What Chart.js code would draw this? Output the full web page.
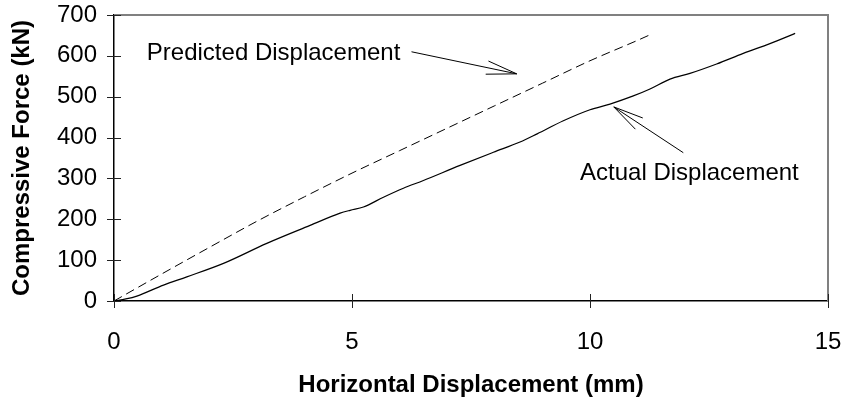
<!DOCTYPE html>
<html>
<head>
<meta charset="utf-8">
<script src="https://cdn.jsdelivr.net/npm/chart.js@4.4.1/dist/chart.umd.min.js"></script>
<style>
  html, body { margin: 0; padding: 0; background: #ffffff; }
  #wrap { width: 843px; height: 405px; }
</style>
</head>
<body>
<div id="wrap"><canvas id="c" width="843" height="405"></canvas></div>
<script>
// ---- data ----
const actualX = [0, 0.25, 0.48, 1.04, 1.53, 2.30, 3.21, 4.12, 4.75, 4.96, 5.24, 5.66, 6.08, 6.5, 7.27, 7.97, 8.53, 8.89, 9.44, 10.0, 10.42, 10.91, 11.26, 11.68, 12.1, 12.66, 13.22, 13.78, 14.31];
const actualY = [0, 5, 12, 39, 59, 92, 141, 185, 215, 222, 230, 254, 276, 295, 332, 364, 389, 409, 441, 468, 482, 502, 519, 543, 557, 580, 606, 630, 655];
const predX = [0, 1, 2, 3, 4, 5, 6, 7, 8, 9, 10, 11, 11.23];
const predY = [0, 66, 131, 195, 255, 313, 368, 423, 478, 533, 588, 638, 650];
const xTicks = [0, 5, 10, 15];
const yTicks = [0, 100, 200, 300, 400, 500, 600, 700];
const seriesNames = ['Actual Displacement', 'Predicted Displacement'];
const xTitle = 'Horizontal Displacement (mm)';
const yTitle = 'Compressive Force (kN)';

// annotation labels/arrows in data coordinates
const notes = [
  { text: 'Predicted Displacement', tx: 0.69, ty: 590, from: [6.25, 610], to: [8.46, 556] },
  { text: 'Actual Displacement', tx: 9.79, ty: 296, from: [11.96, 363], to: [10.5, 475] }
];

const FONT = '"Liberation Sans", Arial, Helvetica, sans-serif';
Chart.defaults.font.family = FONT;
Chart.defaults.color = '#000';

const pts = (xs, ys) => xs.map((x, i) => ({ x: x, y: ys[i] }));

const decor = {
  id: 'decor',
  afterDraw(chart) {
    const ctx = chart.ctx;
    const a = chart.chartArea;
    const xs = chart.scales.x, ys = chart.scales.y;
    ctx.save();
    // top & right frame (grey)
    ctx.strokeStyle = '#808080';
    ctx.lineWidth = 2;
    ctx.beginPath();
    ctx.moveTo(a.left, a.top);
    ctx.lineTo(a.right, a.top);
    ctx.lineTo(a.right, a.bottom);
    ctx.stroke();
    // crossing tick marks
    ctx.strokeStyle = '#222';
    ctx.lineWidth = 1;
    xTicks.forEach(v => {
      const px = Math.round(xs.getPixelForValue(v)) + 0.5;
      ctx.beginPath();
      ctx.moveTo(px, a.bottom - 7);
      ctx.lineTo(px, a.bottom + 7);
      ctx.stroke();
    });
    yTicks.forEach(v => {
      const py = Math.round(ys.getPixelForValue(v)) + 0.5;
      ctx.beginPath();
      ctx.moveTo(a.left - 7, py);
      ctx.lineTo(a.left + 7, py);
      ctx.stroke();
    });
    // annotations
    ctx.fillStyle = '#000';
    ctx.font = '24px ' + FONT;
    ctx.textAlign = 'left';
    ctx.textBaseline = 'alphabetic';
    notes.forEach(n => {
      ctx.fillText(n.text, xs.getPixelForValue(n.tx), ys.getPixelForValue(n.ty));
      const x1 = xs.getPixelForValue(n.from[0]), y1 = ys.getPixelForValue(n.from[1]);
      const x2 = xs.getPixelForValue(n.to[0]), y2 = ys.getPixelForValue(n.to[1]);
      ctx.strokeStyle = '#000';
      ctx.lineWidth = 1;
      ctx.beginPath();
      ctx.moveTo(x1, y1);
      ctx.lineTo(x2, y2);
      ctx.stroke();
      const ang = Math.atan2(y1 - y2, x1 - x2);
      const L = 31, h = 12.5 * Math.PI / 180;
      ctx.beginPath();
      ctx.moveTo(x2 + L * Math.cos(ang + h), y2 + L * Math.sin(ang + h));
      ctx.lineTo(x2, y2);
      ctx.lineTo(x2 + L * Math.cos(ang - h), y2 + L * Math.sin(ang - h));
      ctx.stroke();
    });
    ctx.restore();
  }
};

new Chart(document.getElementById('c'), {
  type: 'line',
  data: {
    datasets: [
      {
        label: seriesNames[0],
        data: pts(actualX, actualY),
        borderColor: '#000',
        borderWidth: 1.2,
        pointRadius: 0,
        fill: false,
        cubicInterpolationMode: 'monotone'
      },
      {
        label: seriesNames[1],
        data: pts(predX, predY),
        borderColor: '#000',
        borderWidth: 1,
        borderDash: [9, 5],
        pointRadius: 0,
        fill: false,
        cubicInterpolationMode: 'monotone'
      }
    ]
  },
  options: {
    responsive: false,
    animation: false,
    events: [],
    layout: { padding: { left: 0, right: 15, top: 15, bottom: 0 } },
    plugins: { legend: { display: false }, tooltip: { enabled: false } },
    scales: {
      x: {
        type: 'linear',
        min: 0, max: 15,
        afterBuildTicks(s) { s.ticks = xTicks.map(v => ({ value: v })); },
        afterFit(s) { s.height = 104; s.paddingLeft = 0; s.paddingRight = 0; },
        grid: { display: false, drawTicks: false },
        border: { display: true, color: '#000', width: 1.5 },
        ticks: { padding: 27, font: { size: 24 }, color: '#000', maxRotation: 0 },
        title: { display: true, text: xTitle, font: { size: 24, weight: 'bold' }, color: '#000', padding: { top: 0, bottom: 5 } }
      },
      y: {
        type: 'linear',
        min: 0, max: 700,
        afterBuildTicks(s) { s.ticks = yTicks.map(v => ({ value: v })); },
        afterFit(s) { s.width = 114; s.paddingTop = 0; s.paddingBottom = 0; },
        grid: { display: false, drawTicks: false },
        border: { display: true, color: '#000', width: 1.5 },
        ticks: { padding: 17, font: { size: 24 }, color: '#000' },
        title: { display: true, text: yTitle, font: { size: 24, weight: 'bold' }, color: '#000', padding: { top: 8, bottom: 0 } }
      }
    }
  },
  plugins: [decor]
});
</script>
</body>
</html>
